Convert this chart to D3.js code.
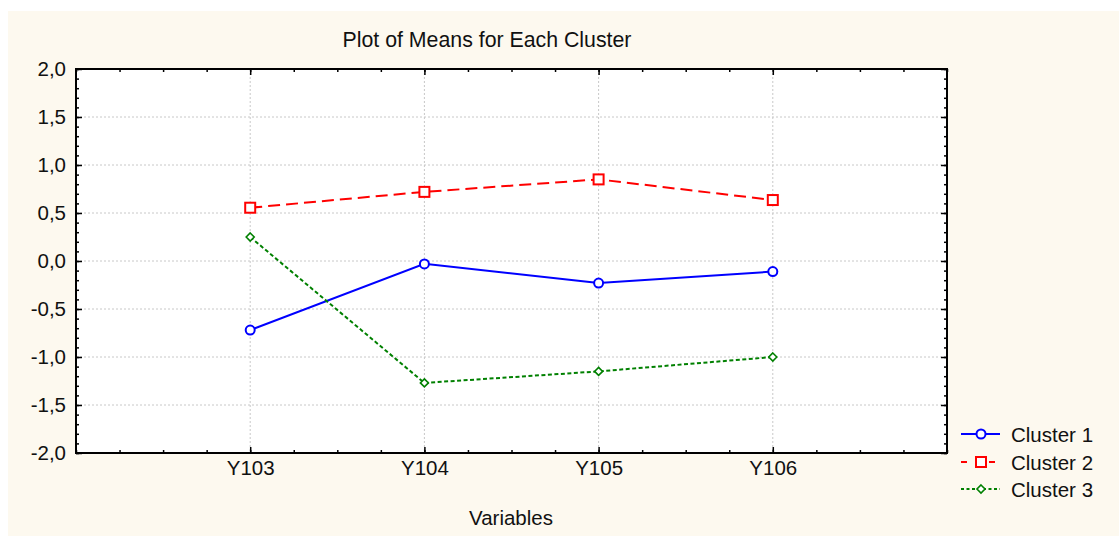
<!DOCTYPE html>
<html>
<head>
<meta charset="utf-8">
<script src="https://cdn.jsdelivr.net/npm/d3@7"></script>
<style>
  html, body { margin: 0; padding: 0; background: #ffffff; }
  svg { display: block; }
  text { font-family: "Liberation Sans", Arial, sans-serif; fill: #111; }
</style>
</head>
<body>
<svg id="chart" width="1119" height="536"></svg>
<script>
const categories = ["Y103", "Y104", "Y105", "Y106"];
const seriesNames = ["Cluster 1", "Cluster 2", "Cluster 3"];
const cluster1 = [-0.72, -0.03, -0.23, -0.11];
const cluster2 = [0.555, 0.72, 0.85, 0.635];
const cluster3 = [0.25, -1.27, -1.15, -1.0];
const yTicks = [-2.0, -1.5, -1.0, -0.5, 0.0, 0.5, 1.0, 1.5, 2.0];
const title = "Plot of Means for Each Cluster";
const xTitle = "Variables";

const FS = 20.5;
const svg = d3.select("#chart");
const W = 1119, H = 536;
const plot = { left: 76, right: 947, top: 69, bottom: 453 };

svg.append("rect").attr("x", 8).attr("y", 11).attr("width", W - 8).attr("height", H - 11)
  .attr("fill", "#fdf9ef");
svg.append("rect").attr("x", plot.left).attr("y", plot.top)
  .attr("width", plot.right - plot.left).attr("height", plot.bottom - plot.top)
  .attr("fill", "#ffffff");

const x = d3.scaleLinear().domain([0, categories.length + 1]).range([plot.left, plot.right]);
const y = d3.scaleLinear().domain([-2, 2]).range([plot.bottom, plot.top]);
const catPos = categories.map((c, i) => i + 1);
const fmt = v => d3.format(".1f")(v).replace(".", ",").replace("\u2212", "-");

// grid
const grid = svg.append("g");
grid.selectAll("line.h").data(yTicks.slice(1, -1)).join("line")
  .attr("x1", plot.left).attr("x2", plot.right)
  .attr("y1", d => y(d)).attr("y2", d => y(d))
  .attr("stroke", "#c8c8c8").attr("stroke-dasharray", "2,2");
grid.selectAll("line.v").data(catPos).join("line")
  .attr("y1", plot.top).attr("y2", plot.bottom)
  .attr("x1", d => x(d)).attr("x2", d => x(d))
  .attr("stroke", "#c8c8c8").attr("stroke-dasharray", "2,2");

// minor ticks
const xMinor = d3.range(0, categories.length + 1 + 0.001, 0.25);
const yMinor = d3.range(-2, 2.0001, 0.1);
function minorAxis(axisFn, scale, vals, tr) {
  svg.append("g").attr("transform", tr)
    .call(axisFn(scale).tickValues(vals).tickSize(-3).tickFormat(""))
    .call(g => g.select(".domain").remove())
    .call(g => g.selectAll("line").attr("stroke", "#000").attr("stroke-width", 1.5));
}
minorAxis(d3.axisBottom, x, xMinor, `translate(0,${plot.bottom})`);
minorAxis(d3.axisTop, x, xMinor, `translate(0,${plot.top})`);
minorAxis(d3.axisLeft, y, yMinor, `translate(${plot.left},0)`);
minorAxis(d3.axisRight, y, yMinor, `translate(${plot.right},0)`);

// major ticks + labels
const yAxis = svg.append("g").attr("transform", `translate(${plot.left},0)`)
  .call(d3.axisLeft(y).tickValues(yTicks).tickSizeInner(-6).tickSizeOuter(0).tickPadding(10).tickFormat(fmt));
yAxis.select(".domain").remove();
yAxis.selectAll("line").attr("stroke", "#000").attr("stroke-width", 1.5);
yAxis.selectAll("text").attr("font-size", FS).attr("font-family", "Liberation Sans, Arial, sans-serif").attr("fill", "#111");

const yAxisR = svg.append("g").attr("transform", `translate(${plot.right},0)`)
  .call(d3.axisRight(y).tickValues(yTicks).tickSizeInner(-6).tickSizeOuter(0).tickFormat(""));
yAxisR.select(".domain").remove();
yAxisR.selectAll("line").attr("stroke", "#000").attr("stroke-width", 1.5);

const xAxis = svg.append("g").attr("transform", `translate(0,${plot.bottom})`)
  .call(d3.axisBottom(x).tickValues(catPos).tickSizeInner(-6).tickSizeOuter(0).tickPadding(7)
    .tickFormat(d => categories[d - 1]));
xAxis.select(".domain").remove();
xAxis.selectAll("line").attr("stroke", "#000").attr("stroke-width", 1.5);
xAxis.selectAll("text").attr("font-size", FS).attr("font-family", "Liberation Sans, Arial, sans-serif").attr("fill", "#111");

const xAxisT = svg.append("g").attr("transform", `translate(0,${plot.top})`)
  .call(d3.axisTop(x).tickValues(catPos).tickSizeInner(-6).tickSizeOuter(0).tickFormat(""));
xAxisT.select(".domain").remove();
xAxisT.selectAll("line").attr("stroke", "#000").attr("stroke-width", 1.5);

// frame
svg.append("rect").attr("x", plot.left).attr("y", plot.top)
  .attr("width", plot.right - plot.left).attr("height", plot.bottom - plot.top)
  .attr("fill", "none").attr("stroke", "#000").attr("stroke-width", 2);

// series
const series = [
  { name: seriesNames[0], values: cluster1, color: "#0000ff", dash: null, width: 2, marker: "circle", legDash: null },
  { name: seriesNames[1], values: cluster2, color: "#ff0000", dash: "12,6", width: 2, marker: "square", legDash: "6,8" },
  { name: seriesNames[2], values: cluster3, color: "#008000", dash: "4,2.5", width: 2, marker: "diamond", legDash: "3,2.5" }
];
const line = d3.line().x((d, i) => x(catPos[i])).y(d => y(d));

function drawMarker(g, type, cx, cy, color) {
  if (type === "circle") {
    g.append("circle").attr("cx", cx).attr("cy", cy).attr("r", 4.5)
      .attr("fill", "#fff").attr("stroke", color).attr("stroke-width", 2);
  } else if (type === "square") {
    g.append("rect").attr("x", cx - 5).attr("y", cy - 5).attr("width", 10).attr("height", 10)
      .attr("fill", "#fff").attr("stroke", color).attr("stroke-width", 2);
  } else {
    g.append("path").attr("d", `M${cx},${cy - 4}L${cx + 4},${cy}L${cx},${cy + 4}L${cx - 4},${cy}Z`)
      .attr("fill", "#fff").attr("stroke", color).attr("stroke-width", 1.6);
  }
}

series.forEach(s => {
  const g = svg.append("g");
  g.append("path").datum(s.values).attr("d", line)
    .attr("fill", "none").attr("stroke", s.color).attr("stroke-width", s.width)
    .attr("stroke-dasharray", s.dash);
  s.values.forEach((v, i) => drawMarker(g, s.marker, x(catPos[i]), y(v), s.color));
});

// legend
const legY = [434, 462, 489];
series.forEach((s, i) => {
  const g = svg.append("g");
  g.append("line").attr("x1", 961).attr("x2", 1000).attr("y1", legY[i]).attr("y2", legY[i])
    .attr("stroke", s.color).attr("stroke-width", s.width).attr("stroke-dasharray", s.legDash);
  drawMarker(g, s.marker, 981, legY[i], s.color);
  g.append("text").attr("x", 1011).attr("y", legY[i] + 7.5).attr("font-size", FS).text(s.name);
});

// titles
svg.append("text").attr("x", 487).attr("y", 47).attr("text-anchor", "middle").attr("font-size", 21.3).text(title);
svg.append("text").attr("x", 511).attr("y", 525).attr("text-anchor", "middle").attr("font-size", FS).text(xTitle);
</script>
</body>
</html>
